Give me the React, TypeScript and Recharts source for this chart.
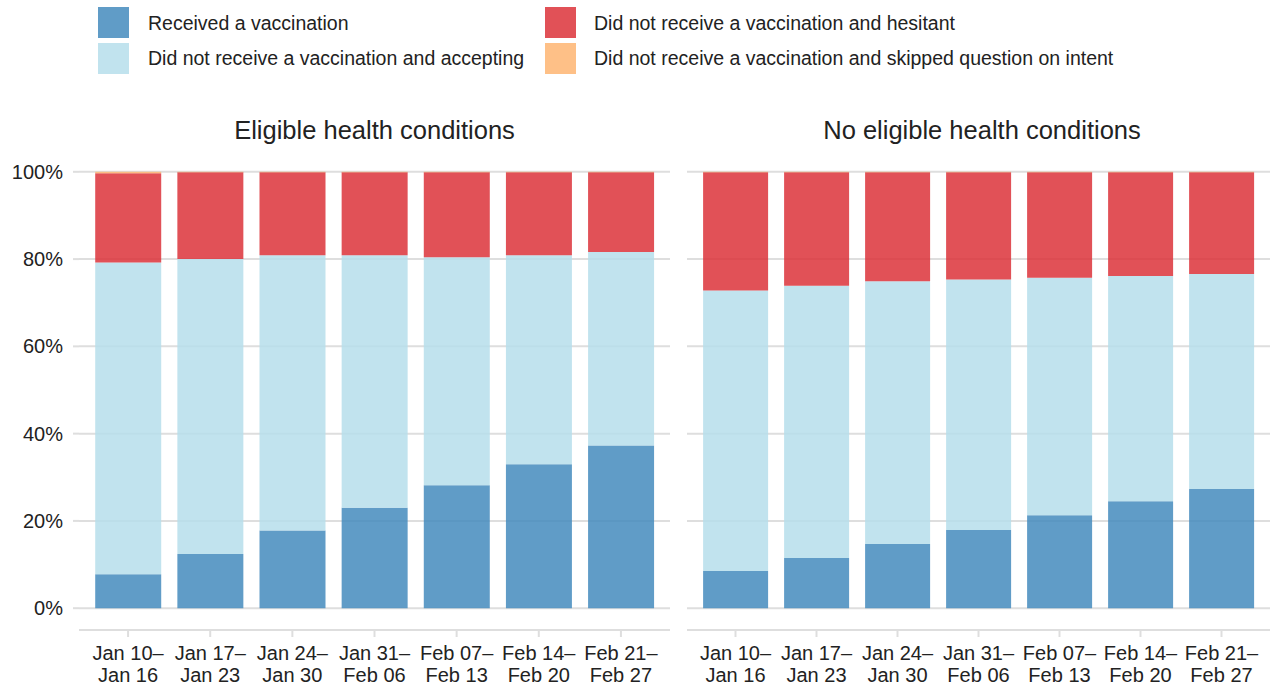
import React from "react";
import { BarChart, Bar, XAxis, YAxis, CartesianGrid } from "recharts";

const weekStart = ["Jan 10–", "Jan 17–", "Jan 24–", "Jan 31–", "Feb 07–", "Feb 14–", "Feb 21–"];
const weekEnd = ["Jan 16", "Jan 23", "Jan 30", "Feb 06", "Feb 13", "Feb 20", "Feb 27"];

const eligibleReceived = [7.8, 12.4, 17.8, 23.0, 28.2, 33.0, 37.3];
const eligibleAccepting = [71.4, 67.6, 63.1, 57.9, 52.2, 47.9, 44.3];
const eligibleHesitant = [20.5, 19.9, 19.0, 19.0, 19.5, 19.0, 18.3];
const eligibleSkipped = [0.3, 0.1, 0.1, 0.1, 0.1, 0.1, 0.1];

const noneReceived = [8.5, 11.5, 14.7, 17.9, 21.3, 24.5, 27.3];
const noneAccepting = [64.3, 62.4, 60.2, 57.4, 54.4, 51.6, 49.3];
const noneHesitant = [27.1, 26.0, 25.0, 24.6, 24.2, 23.8, 23.3];
const noneSkipped = [0.1, 0.1, 0.1, 0.1, 0.1, 0.1, 0.1];

const yTicks = [0, 20, 40, 60, 80, 100];

const seriesNames = [
  "Received a vaccination",
  "Did not receive a vaccination and accepting",
  "Did not receive a vaccination and hesitant",
  "Did not receive a vaccination and skipped question on intent",
];
const seriesKeys = ["received", "accepting", "hesitant", "skipped"];
const seriesColors = ["#448bbd", "#b6deeb", "#dc3339", "#feb572"];
const OPACITY = 0.85;

const FONT = '"Liberation Sans", Arial, Helvetica, sans-serif';
const TEXT = "#222222";
const GRID = "#dedede";

function build(r: number[], a: number[], h: number[], s: number[]) {
  return weekStart.map((w, i) => ({
    key: w + weekEnd[i],
    start: w,
    end: weekEnd[i],
    received: r[i],
    accepting: a[i],
    hesitant: h[i],
    skipped: s[i],
  }));
}

const eligibleData = build(eligibleReceived, eligibleAccepting, eligibleHesitant, eligibleSkipped);
const noneData = build(noneReceived, noneAccepting, noneHesitant, noneSkipped);

const XTick = (props: any) => {
  const { x, y, payload, index } = props;
  return (
    <text x={x} y={y} textAnchor="middle" fill={TEXT} fontSize={20} fontFamily={FONT}>
      <tspan x={x} dy={23}>{weekStart[index]}</tspan>
      <tspan x={x} dy={22}>{weekEnd[index]}</tspan>
    </text>
  );
};

function Panel({ data, showY, width, left, marginLeft }: any) {
  return (
    <div style={{ position: "absolute", left, top: 0 }}>
      <BarChart
        width={width}
        height={688}
        data={data}
        margin={{ top: 150, right: 10, bottom: 0, left: marginLeft }}
        barCategoryGap="10%"
      >
        <CartesianGrid vertical={false} stroke={GRID} strokeWidth={2} horizontalValues={yTicks} />
        <XAxis
          dataKey="key"
          interval={0}
          padding={{ left: 8, right: 8 }}
          height={58}
          tickSize={7}
          tickMargin={0}
          axisLine={{ stroke: GRID, strokeWidth: 2 }}
          tickLine={{ stroke: GRID, strokeWidth: 2 }}
          tick={<XTick />}
        />
        <YAxis
          hide={!showY}
          type="number"
          domain={[-5, 105]}
          ticks={yTicks}
          allowDataOverflow
          width={79}
          tickSize={6}
          tickMargin={10}
          axisLine={false}
          tickLine={{ stroke: GRID, strokeWidth: 2 }}
          tick={{ fill: TEXT, fontSize: 20, fontFamily: FONT }}
          tickFormatter={(v: number) => `${v}%`}
        />
        {seriesKeys.map((k, i) => (
          <Bar
            key={k}
            dataKey={k}
            name={seriesNames[i]}
            stackId="a"
            fill={seriesColors[i]}
            fillOpacity={OPACITY}
            isAnimationActive={false}
          />
        ))}
      </BarChart>
    </div>
  );
}

export default function App() {
  const legendPos = [
    { x: 98, y: 7, tx: 148, ty: 30 },
    { x: 98, y: 43, tx: 148, ty: 65 },
    { x: 545, y: 7, tx: 594, ty: 30 },
    { x: 545, y: 43, tx: 594, ty: 65 },
  ];
  return (
    <div
      style={{
        position: "absolute",
        left: 0,
        top: 0,
        width: 1275,
        height: 688,
        overflow: "hidden",
        background: "#ffffff",
        fontFamily: FONT,
      }}
    >
      <Panel data={eligibleData} showY={true} width={680} left={0} marginLeft={0} />
      <Panel data={noneData} showY={false} width={600} left={680} marginLeft={7} />
      <svg
        width={1275}
        height={150}
        style={{ position: "absolute", left: 0, top: 0, pointerEvents: "none" }}
      >
        {seriesNames.map((n, i) => (
          <g key={n}>
            <rect
              x={legendPos[i].x}
              y={legendPos[i].y}
              width={31}
              height={31}
              fill={seriesColors[i]}
              fillOpacity={OPACITY}
            />
            <text x={legendPos[i].tx} y={legendPos[i].ty} fontSize={19.5} fill={TEXT} fontFamily={FONT}>
              {n}
            </text>
          </g>
        ))}
        <text x={374.5} y={139} textAnchor="middle" fontSize={25.5} fill={TEXT} fontFamily={FONT}>
          Eligible health conditions
        </text>
        <text x={982} y={139} textAnchor="middle" fontSize={25.5} fill={TEXT} fontFamily={FONT}>
          No eligible health conditions
        </text>
      </svg>
    </div>
  );
}
